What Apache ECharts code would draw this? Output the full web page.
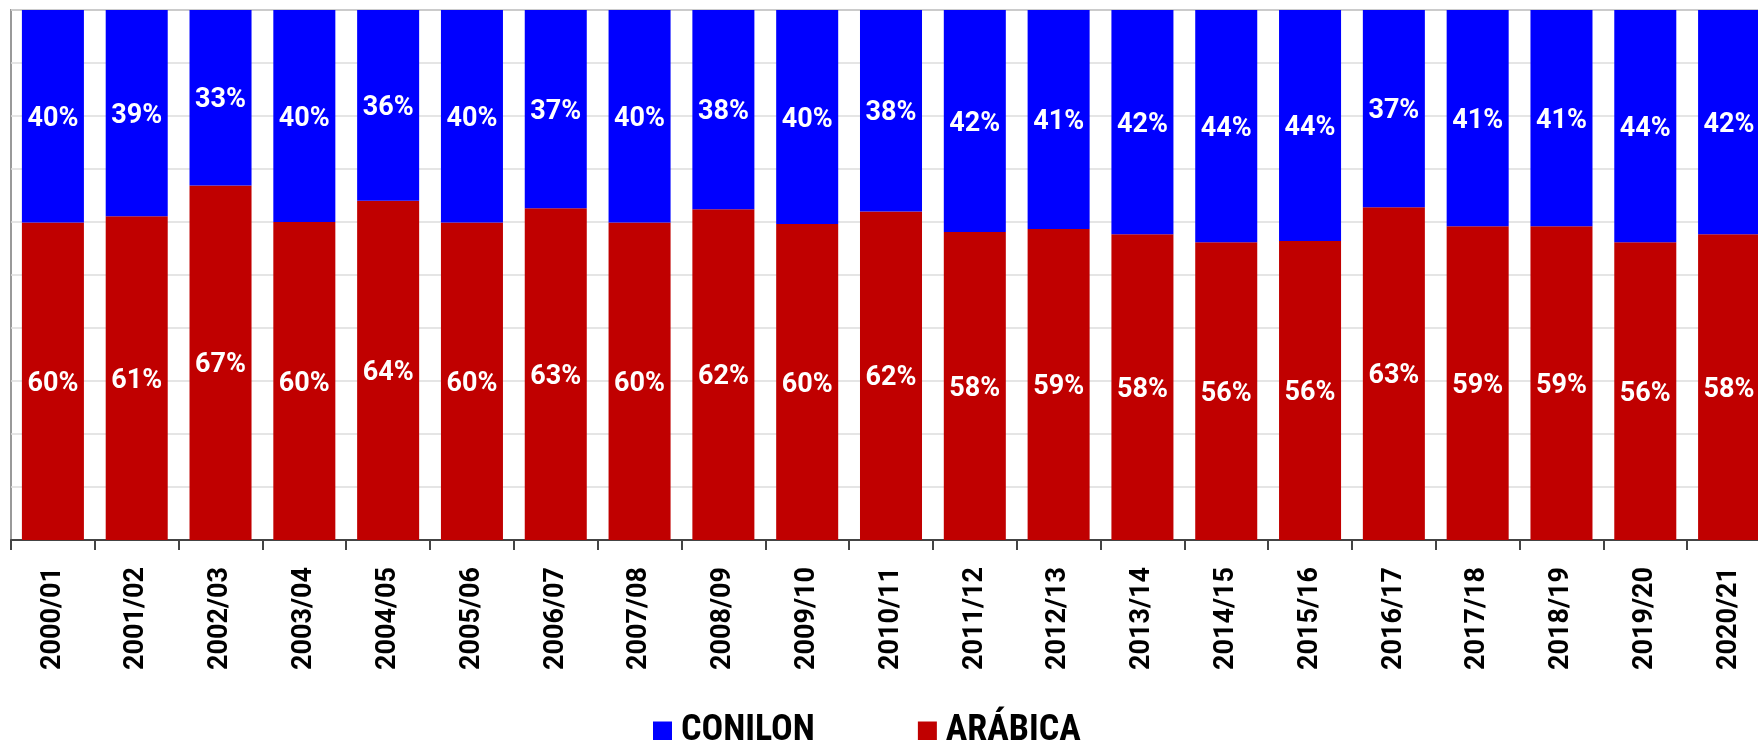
<!DOCTYPE html>
<html>
<head>
<meta charset="utf-8">
<script src="https://cdn.jsdelivr.net/npm/echarts@6/dist/echarts.min.js"></script>
<style>
html,body{margin:0;padding:0;background:#fff;}
#chart{width:1758px;height:740px;}
</style>
</head>
<body>
<div id="chart"></div>
<script>
const categories = ['2000/01','2001/02','2002/03','2003/04','2004/05','2005/06','2006/07','2007/08','2008/09','2009/10','2010/11','2011/12','2012/13','2013/14','2014/15','2015/16','2016/17','2017/18','2018/19','2019/20','2020/21'];
const arabica = [59.9, 61.1, 66.9, 60.0, 64.0, 59.9, 62.6, 59.9, 62.4, 59.6, 62.0, 58.1, 58.7, 57.7, 56.2, 56.4, 62.8, 59.2, 59.2, 56.2, 57.7];
const conilon = [40.1, 38.9, 33.1, 40.0, 36.0, 40.1, 37.4, 40.1, 37.6, 40.4, 38.0, 41.9, 41.3, 42.3, 43.8, 43.6, 37.2, 40.8, 40.8, 43.8, 42.3];
const seriesNames = ['CONILON', 'ARÁBICA'];

const chart = echarts.init(document.getElementById('chart'), null, {renderer: 'canvas'});
const barLabel = {
  show: true,
  position: 'inside',
  offset: [0, 3],
  color: '#fff',
  fontFamily: 'Roboto',
  fontWeight: 'bold',
  fontSize: 27,
  formatter: p => Math.round(p.value) + '%'
};
chart.setOption({
  animation: false,
  backgroundColor: '#fff',
  grid: {left: 11, right: -13, top: 10, bottom: 200, show: true, borderColor: '#999', borderWidth: 2, containLabel: false, outerBoundsMode: 'none'},
  legend: {
    data: seriesNames,
    left: 648,
    top: 708,
    icon: 'rect',
    itemWidth: 19,
    itemHeight: 19,
    itemGap: 103,
    textStyle: {fontFamily: 'Roboto', fontWeight: 'bold condensed', fontSize: 36, color: '#000', padding: [0,0,0,4], lineHeight: 34}
  },
  xAxis: {
    type: 'category',
    data: categories,
    axisLine: {lineStyle: {color: '#444', width: 2}},
    axisTick: {show: true, length: 10, lineStyle: {color: '#444', width: 2}, interval: 0},
    axisLabel: {interval: 0, rotate: 90, align: 'left', margin: 130, color: '#000', fontFamily: 'Roboto', fontWeight: 'bold', fontSize: 27}
  },
  yAxis: {
    type: 'value',
    min: 0, max: 100, interval: 10,
    axisLabel: {show: false},
    axisLine: {show: false},
    axisTick: {show: false},
    splitLine: {lineStyle: {color: '#dcdcdc', width: 1.5}}
  },
  series: [
    {name: 'ARÁBICA', type: 'bar', stack: 'total', data: arabica, barWidth: '74%', itemStyle: {color: '#C00000'}, label: barLabel},
    {name: 'CONILON', type: 'bar', stack: 'total', data: conilon, barWidth: '74%', itemStyle: {color: '#0000FF'}, label: barLabel}
  ]
});
</script>
</body>
</html>
